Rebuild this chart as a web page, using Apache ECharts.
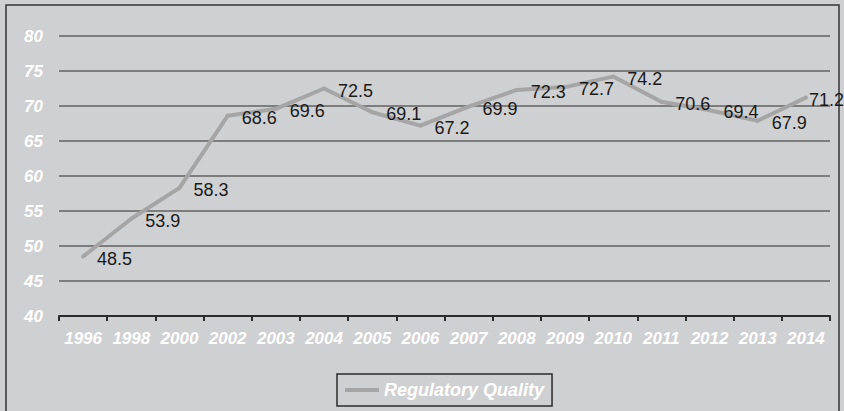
<!DOCTYPE html>
<html>
<head>
<meta charset="utf-8">
<script src="https://cdn.jsdelivr.net/npm/echarts@6/dist/echarts.min.js"></script>
<style>
  html, body { margin: 0; padding: 0; background: #cfd0d2; }
  #chart { width: 844px; height: 411px; }
</style>
</head>
<body>
<div id="chart"></div>
<script>
const years = ['1996', '1998', '2000', '2002', '2003', '2004', '2005', '2006',
  '2007', '2008', '2009', '2010', '2011', '2012', '2013', '2014'];
const regulatoryQuality = [48.5, 53.9, 58.3, 68.6, 69.6, 72.5, 69.1, 67.2,
  69.9, 72.3, 72.7, 74.2, 70.6, 69.4, 67.9, 71.2];
const seriesName = 'Regulatory Quality';

const font = 'Liberation Sans, Arial, sans-serif';
const whiteLabel = {
  color: '#ffffff',
  fontFamily: font,
  fontWeight: 'bold',
  fontStyle: 'italic',
  fontSize: 17
};

// last label sits tight against the point so it fits inside the frame
const lastIndex = regulatoryQuality.length - 1;
const points = regulatoryQuality.map((v, i) => (
  i === lastIndex ? { value: v, label: { distance: 1 } } : v
));

const chart = echarts.init(document.getElementById('chart'), null, { renderer: 'svg' });
chart.setOption({
  animation: false,
  backgroundColor: '#cfd0d2',
  grid: { left: 59, right: 14, top: 36, bottom: 95 },
  xAxis: {
    type: 'category',
    data: years,
    boundaryGap: true,
    axisLine: { lineStyle: { color: '#2b2b2b', width: 2 } },
    axisTick: { show: true, length: 5, lineStyle: { color: '#2b2b2b', width: 2 } },
    axisLabel: { ...whiteLabel, margin: 14, interval: 0 }
  },
  yAxis: {
    type: 'value',
    min: 40,
    max: 80,
    interval: 5,
    axisLine: { show: false },
    axisTick: { show: false },
    axisLabel: { ...whiteLabel, margin: 16 },
    splitLine: { lineStyle: { color: '#7d7d7d', width: 2 } }
  },
  legend: {
    left: 337,
    top: 374,
    padding: [7, 8, 7, 8],
    borderColor: '#2b2b2b',
    borderWidth: 1.5,
    itemWidth: 34,
    itemHeight: 4,
    itemGap: 5,
    icon: 'rect',
    textStyle: { ...whiteLabel, fontSize: 18 },
    data: [seriesName]
  },
  series: [{
    name: seriesName,
    type: 'line',
    data: points,
    symbol: 'circle',
    symbolSize: 4,
    showSymbol: true,
    lineStyle: { color: '#a5a5a5', width: 4 },
    itemStyle: { color: '#a5a5a5', borderWidth: 0 },
    label: {
      show: true,
      position: 'right',
      distance: 12,
      offset: [0, 2],
      color: '#1a1a1a',
      fontFamily: font,
      fontSize: 18
    }
  }],
  graphic: [{
    type: 'rect',
    shape: { x: 6, y: 5, width: 833, height: 420 },
    style: { fill: 'none', stroke: '#333333', lineWidth: 1.5 },
    silent: true
  }]
});
</script>
</body>
</html>
